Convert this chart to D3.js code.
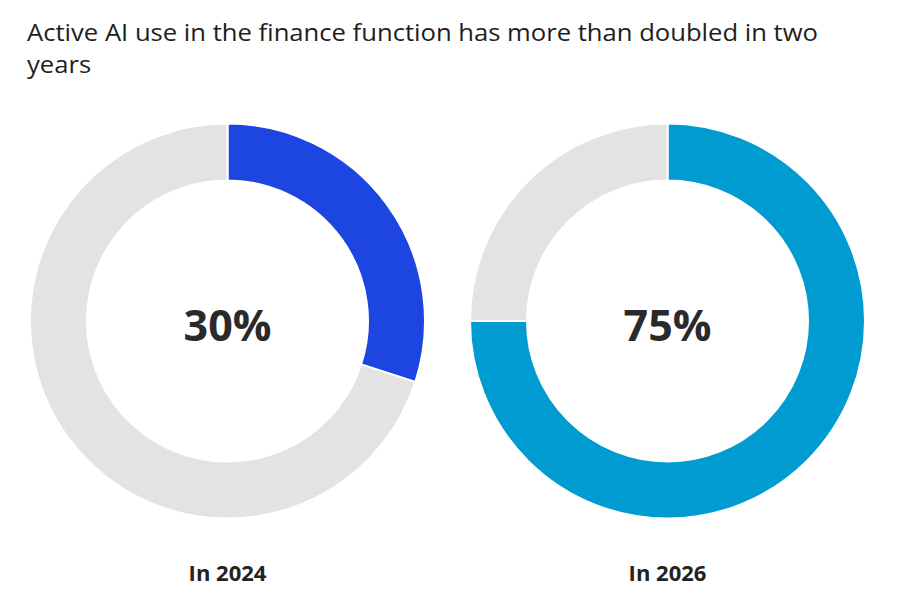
<!DOCTYPE html>
<html>
<head>
<meta charset="utf-8">
<script src="https://cdn.jsdelivr.net/npm/d3@7"></script>
<style>
  body { margin: 0; background: #fff; }
  svg { display: block; font-family: "Open Sans", "Noto Sans", sans-serif; }
</style>
</head>
<body>
<div id="chart"></div>
<script>
// data
const titleLines = ["Active AI use in the finance function has more than doubled in two", "years"];
const years = ["In 2024", "In 2026"];
const shares = [30, 75];
const colors = ["#1d45e1", "#009bd0"];
const restColor = "#e3e3e3";

const width = 900, height = 610;
const rOuter = 197.5, rInner = 140.5;

const svg = d3.select('#chart').append('svg')
	.attr('width', width)
	.attr('height', height);

// title
const title = svg.append('text')
	.attr('fill', '#1e1e1e')
	.style('font-size', '24.5px');

title.selectAll('tspan')
	.data(titleLines)
	.enter().append('tspan')
	.attr('x', 27)
	.attr('y', (d, i) => 41 + i * 31.5)
	.text(d => d);

// the title font is narrower than Open Sans, squeeze both lines the same way
const lines = title.selectAll('tspan').nodes();
const squeeze = 791 / lines[0].getComputedTextLength();
lines.forEach(n => {
	n.setAttribute('textLength', n.getComputedTextLength() * squeeze);
	n.setAttribute('lengthAdjust', 'spacingAndGlyphs');
});

// one donut per year
const scaleX = d3.scalePoint().domain(years).range([227.5, 667.5]);

const pie = d3.pie().sort(null).value(d => d.v);
const arc = d3.arc().innerRadius(rInner).outerRadius(rOuter);

const donuts = svg.selectAll('.donut')
	.data(years.map((y, i) => ({year: y, share: shares[i], color: colors[i]})))
	.enter().append('g')
	.attr('class', 'donut')
	.attr('transform', d => `translate(${scaleX(d.year)},321)`);

donuts.selectAll('path')
	.data(d => pie([{v: d.share, c: d.color}, {v: 100 - d.share, c: restColor}]))
	.enter().append('path')
	.attr('d', arc)
	.attr('fill', d => d.data.c)
	.attr('stroke', '#fff')
	.attr('stroke-width', 2);

donuts.append('text')
	.attr('text-anchor', 'middle')
	.attr('y', 20)
	.attr('fill', '#2a2a2a')
	.style('font-size', '43px')
	.style('font-weight', 700)
	.text(d => `${d.share}%`);

donuts.append('text')
	.attr('text-anchor', 'middle')
	.attr('y', 260)
	.attr('fill', '#222')
	.style('font-size', '22px')
	.style('font-weight', 700)
	.text(d => d.year);
</script>
</body>
</html>
